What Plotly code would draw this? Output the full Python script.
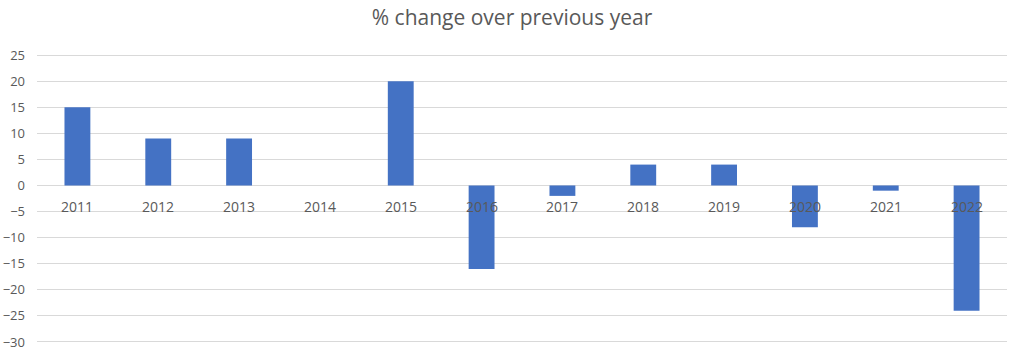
import plotly.graph_objects as go

years = ["2011", "2012", "2013", "2014", "2015", "2016", "2017", "2018", "2019", "2020", "2021", "2022"]
pct_change = [15, 9, 9, 0, 20, -16, -2, 4, 4, -8, -1, -24]
y_ticks = [-30, -25, -20, -15, -10, -5, 0, 5, 10, 15, 20, 25]

font_family = "Open Sans, Liberation Sans, sans-serif"
text_color = "#595959"

fig = go.Figure()
fig.add_trace(go.Bar(
    x=years, y=pct_change,
    marker=dict(color="#4472C4", line=dict(width=0)),
    width=0.32,
    hoverinfo="x+y",
))

annotations = [
    dict(x=i, y=0, xref="x", yref="y", text=yr, showarrow=False,
         yanchor="top", yshift=-10, font=dict(family=font_family, size=14, color=text_color))
    for i, yr in enumerate(years)
]

fig.update_layout(
    width=1024, height=355,
    margin=dict(l=37, r=17, t=54, b=12, autoexpand=False),
    paper_bgcolor="white", plot_bgcolor="white",
    title=dict(text="% change over previous year", x=0.5, xanchor="center",
               y=1 - 18 / 355, yanchor="middle",
               font=dict(family=font_family, size=21, color=text_color)),
    xaxis=dict(type="category", showticklabels=False, showgrid=False, ticks="", showline=False,
               zeroline=False, range=[-0.5, 11.5]),
    yaxis=dict(range=[-30.2, 25.2], tickvals=y_ticks, showgrid=True, gridcolor="#d9d9d9", gridwidth=1,
               zeroline=True, zerolinecolor="#d9d9d9", zerolinewidth=1, showline=False,
               ticks="", ticklabelstandoff=11,
               tickfont=dict(family=font_family, size=13, color=text_color)),
    annotations=annotations,
    showlegend=False,
)

fig.write_html("out.html")
